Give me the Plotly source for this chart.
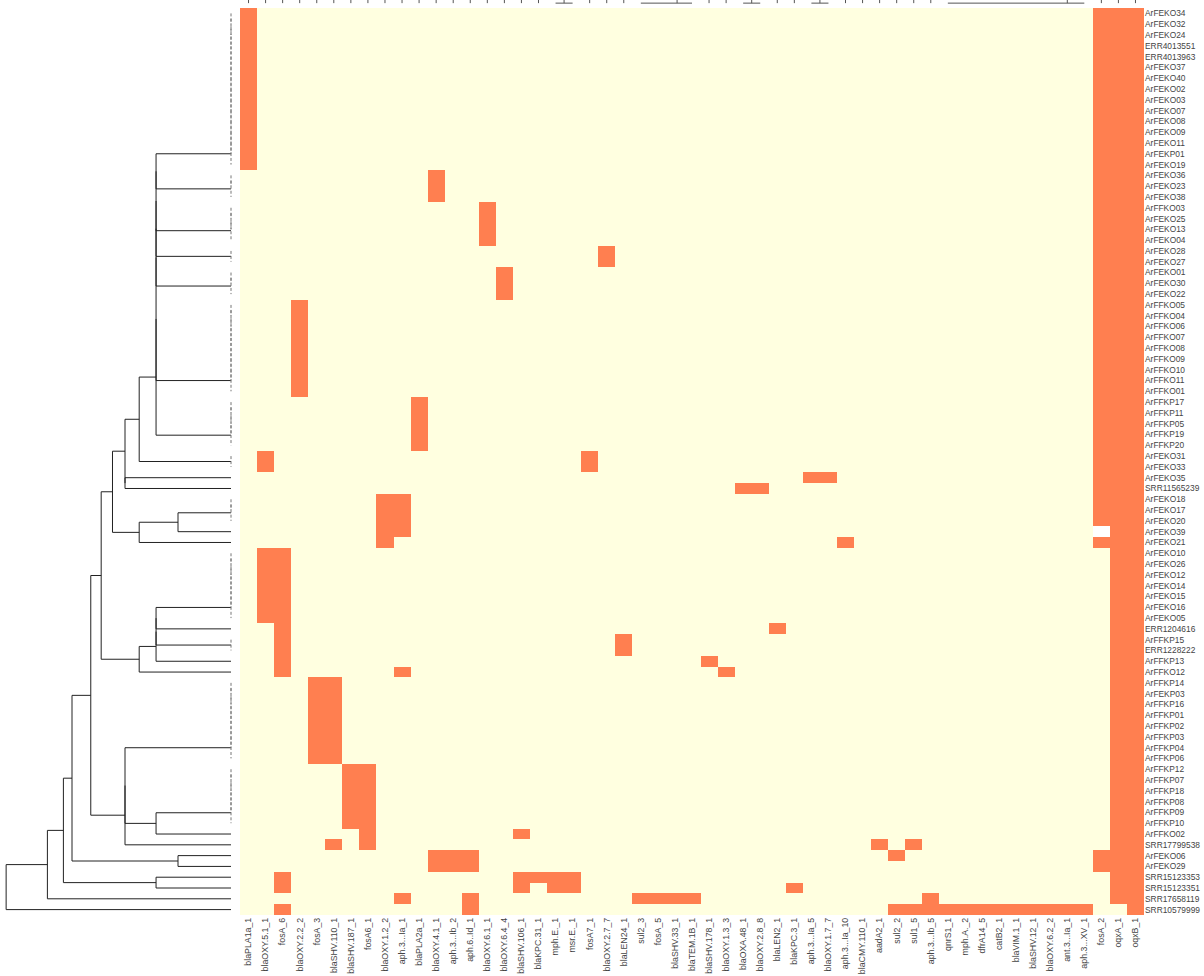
import numpy as np
import plotly.graph_objects as go

genes = ["blaPLA1a_1", "blaOXY.5.1_1", "fosA_6", "blaOXY.2.2_2", "fosA_3", "blaSHV.110_1",
         "blaSHV.187_1", "fosA6_1", "blaOXY.1.2_2", "aph.3...Ia_1", "blaPLA2a_1", "blaOXY.4.1_1",
         "aph.3...Ib_2", "aph.6..Id_1", "blaOXY.6.1_1", "blaOXY.6.4_4", "blaSHV.106_1", "blaKPC.31_1",
         "mph.E._1", "msr.E._1", "fosA7_1", "blaOXY.2.7_7", "blaLEN24_1", "sul2_3", "fosA_5",
         "blaSHV.33_1", "blaTEM.1B_1", "blaSHV.178_1", "blaOXY.1.3_3", "blaOXA.48_1", "blaOXY.2.8_8",
         "blaLEN2_1", "blaKPC.3_1", "aph.3...Ia_5", "blaOXY.1.7_7", "aph.3...Ia_10", "blaCMY.110_1",
         "aadA2_1", "sul2_2", "sul1_5", "aph.3...Ib_5", "qnrS1_1", "mph.A._2", "dfrA14_5", "catB2_1",
         "blaVIM.1_1", "blaSHV.12_1", "blaOXY.6.2_2", "ant.3...Ia_1", "aph.3...XV_1", "fosA_2",
         "oqxA_1", "oqxB_1"]

samples = ["ArFEKO34", "ArFEKO32", "ArFEKO24", "ERR4013551", "ERR4013963", "ArFEKO37", "ArFEKO40",
           "ArFEKO02", "ArFEKO03", "ArFEKO07", "ArFEKO08", "ArFEKO09", "ArFEKO11", "ArFEKP01",
           "ArFEKO19", "ArFEKO36", "ArFEKO23", "ArFEKO38", "ArFFKO03", "ArFEKO25", "ArFEKO13",
           "ArFEKO04", "ArFEKO28", "ArFEKO27", "ArFEKO01", "ArFEKO30", "ArFEKO22", "ArFFKO05",
           "ArFFKO04", "ArFFKO06", "ArFFKO07", "ArFFKO08", "ArFFKO09", "ArFFKO10", "ArFFKO11",
           "ArFFKO01", "ArFFKP17", "ArFFKP11", "ArFFKP05", "ArFFKP19", "ArFFKP20", "ArFEKO31",
           "ArFEKO33", "ArFEKO35", "SRR11565239", "ArFEKO18", "ArFEKO17", "ArFEKO20", "ArFEKO39",
           "ArFEKO21", "ArFEKO10", "ArFEKO26", "ArFEKO12", "ArFEKO14", "ArFEKO15", "ArFEKO16",
           "ArFEKO05", "ERR1204616", "ArFFKP15", "ERR1228222", "ArFFKP13", "ArFFKO12", "ArFFKP14",
           "ArFEKP03", "ArFFKP16", "ArFFKP01", "ArFFKP02", "ArFFKP03", "ArFFKP04", "ArFFKP06",
           "ArFFKP12", "ArFFKP07", "ArFFKP18", "ArFFKP08", "ArFFKP09", "ArFFKP10", "ArFFKO02",
           "SRR17799538", "ArFEKO06", "ArFEKO29", "SRR15123353", "SRR15123351", "SRR17658119",
           "SRR10579999"]

# genes present in each sample (1-based column numbers, same order as `samples`)
present_cols = [
    [1, 51, 52, 53], [1, 51, 52, 53], [1, 51, 52, 53], [1, 51, 52, 53], [1, 51, 52, 53],
    [1, 51, 52, 53], [1, 51, 52, 53], [1, 51, 52, 53], [1, 51, 52, 53], [1, 51, 52, 53],
    [1, 51, 52, 53], [1, 51, 52, 53], [1, 51, 52, 53], [1, 51, 52, 53], [1, 51, 52, 53],
    [12, 51, 52, 53], [12, 51, 52, 53], [12, 51, 52, 53],
    [15, 51, 52, 53], [15, 51, 52, 53], [15, 51, 52, 53], [15, 51, 52, 53],
    [22, 51, 52, 53], [22, 51, 52, 53],
    [16, 51, 52, 53], [16, 51, 52, 53], [16, 51, 52, 53],
    [4, 51, 52, 53], [4, 51, 52, 53], [4, 51, 52, 53], [4, 51, 52, 53], [4, 51, 52, 53],
    [4, 51, 52, 53], [4, 51, 52, 53], [4, 51, 52, 53], [4, 51, 52, 53],
    [11, 51, 52, 53], [11, 51, 52, 53], [11, 51, 52, 53], [11, 51, 52, 53], [11, 51, 52, 53],
    [2, 21, 51, 52, 53], [2, 21, 51, 52, 53],
    [34, 35, 51, 52, 53],
    [30, 31, 51, 52, 53],
    [9, 10, 51, 52, 53], [9, 10, 51, 52, 53], [9, 10, 51, 52, 53],
    [9, 10, 52, 53],
    [9, 36, 51, 52, 53],
    [2, 3, 52, 53], [2, 3, 52, 53], [2, 3, 52, 53], [2, 3, 52, 53], [2, 3, 52, 53],
    [2, 3, 52, 53], [2, 3, 52, 53],
    [3, 32, 52, 53],
    [3, 23, 52, 53], [3, 23, 52, 53],
    [3, 28, 52, 53],
    [3, 10, 29, 52, 53],
    [5, 6, 52, 53], [5, 6, 52, 53], [5, 6, 52, 53], [5, 6, 52, 53], [5, 6, 52, 53],
    [5, 6, 52, 53], [5, 6, 52, 53], [5, 6, 52, 53],
    [7, 8, 52, 53], [7, 8, 52, 53], [7, 8, 52, 53], [7, 8, 52, 53], [7, 8, 52, 53],
    [7, 8, 52, 53],
    [8, 17, 52, 53],
    [6, 8, 38, 40, 52, 53],
    [12, 13, 14, 39, 51, 52, 53],
    [12, 13, 14, 51, 52, 53],
    [3, 17, 18, 19, 20, 52, 53],
    [3, 17, 19, 20, 33, 52, 53],
    [10, 14, 24, 25, 26, 27, 41, 52, 53],
    [3, 14, 39, 40, 41, 42, 43, 44, 45, 46, 47, 48, 49, 50, 53],
]

# cells without a value (drawn blank)
missing_cells = [("ArFEKO39", "fosA_2")]

# row dendrogram topology (1-based row numbers); a list with >2 items merges left to right
row_tree = [
    [
        [
            [
                [
                    [
                        [
                            [
                                [
                                    [1, 2, 3, 4, 5, 6, 7, 8, 9, 10, 11, 12, 13, 14, 15],
                                    [16, 17, 18], [19, 20, 21, 22], [23, 24], [25, 26, 27],
                                    [28, 29, 30, 31, 32, 33, 34, 35, 36],
                                    [37, 38, 39, 40, 41],
                                ],
                                [42, 43],
                            ],
                            [44, 45],
                        ],
                        [[[46, 47, 48], 49], 50],
                    ],
                    [[[51, 52, 53, 54, 55, 56, 57], 58, [59, 60], 61], 62],
                ],
                [[[63, 64, 65, 66, 67, 68, 69, 70], [[71, 72, 73, 74, 75, 76], 77]], 78],
            ],
            [79, 80],
        ],
        [81, 82],
    ],
    83,
]
row_tree = [row_tree, 84]

# ---------------------------------------------------------------- matrix
nr, nc = len(samples), len(genes)
z = np.zeros((nr, nc))
for r, cols in enumerate(present_cols):
    for c in cols:
        z[r, c - 1] = 1.0
zd = z.copy()
for s, g in missing_cells:
    z[samples.index(s), genes.index(g)] = np.nan

# euclidean distances between rows (blank cells counted as absent)
diff = zd[:, None, :] - zd[None, :, :]
dist = np.sqrt((diff ** 2).sum(axis=2))

seg_x, seg_y = [], []      # dendrogram branches
zero_x, zero_y = [], []    # joins of identical leaves (height 0)


def add_seg(x0, y0, x1, y1):
    if x0 == 0 and x1 == 0:
        if y0 != y1:
            zero_x.extend([x0, x1, None])
            zero_y.extend([y0, y1, None])
        return
    seg_x.extend([x0, x1, None])
    seg_y.extend([y0, y1, None])


def build(node):
    if isinstance(node, int):
        return [node - 1], float(node - 1), 0.0
    parts = [build(ch) for ch in node]
    mem, pos, h = parts[0]
    for mem2, pos2, h2 in parts[1:]:
        hn = max(dist[i, j] for i in mem for j in mem2)
        add_seg(hn, pos, hn, pos2)
        add_seg(h, pos, hn, pos)
        add_seg(h2, pos2, hn, pos2)
        mem = mem + mem2
        pos = (pos + pos2) / 2.0
        h = hn
    return mem, pos, h


build(row_tree)

# column dendrogram: only its leaf ends are visible above the heatmap.
# runs of identical neighbouring columns join at height 0.
col_x, col_y = [], []
c = 0
while c < nc:
    e = c
    while e + 1 < nc and np.array_equal(zd[:, e + 1], zd[:, c]):
        e += 1
    if e > c:
        col_x.extend([c, e, None])
        col_y.extend([0, 0, None])
        p = float(c)
        for k in range(c + 1, e + 1):
            p = (p + k) / 2.0
    else:
        p = float(c)
    col_x.extend([p, p, None])
    col_y.extend([0, 1, None])
    c = e + 1

# ---------------------------------------------------------------- figure
W, H = 1204, 976
hm_x0, hm_x1 = 240, 1144
hm_y0, hm_y1 = 8, 915
dend_px = 53.0  # pixels per distance unit
leaf_px = 231

font_fam = "Liberation Sans, Arial, sans-serif"
lab_col = "#444444"

fig = go.Figure()
fig.add_trace(go.Heatmap(
    z=z, x=list(range(nc)), y=list(range(nr)),
    colorscale=[[0, "#FFFFE0"], [0.5, "#FFFFE0"], [0.5, "#FF7F50"], [1, "#FF7F50"]],
    zmin=0, zmax=1, showscale=False, xaxis="x", yaxis="y",
    hovertemplate="%{y}<br>%{x}: %{z}<extra></extra>",
))
fig.add_trace(go.Scatter(
    x=seg_x, y=seg_y, mode="lines", line=dict(color="#222222", width=1),
    xaxis="x2", yaxis="y2", hoverinfo="skip", showlegend=False,
))
fig.add_trace(go.Scatter(
    x=zero_x, y=zero_y, mode="lines", line=dict(color="#777777", width=1, dash="3px,2px"),
    xaxis="x2", yaxis="y2", hoverinfo="skip", showlegend=False,
))
fig.add_trace(go.Scatter(
    x=col_x, y=col_y, mode="lines", line=dict(color="#555555", width=1),
    xaxis="x", yaxis="y3", hoverinfo="skip", showlegend=False,
))

ydom = [1 - hm_y1 / H, 1 - hm_y0 / H]
fig.update_layout(
    width=W, height=H,
    margin=dict(l=0, r=0, t=0, b=0),
    paper_bgcolor="white", plot_bgcolor="white",
    showlegend=False,
    font=dict(family=font_fam, color=lab_col),
    xaxis=dict(domain=[hm_x0 / W, hm_x1 / W], range=[-0.5, nc - 0.5], anchor="y",
               tickmode="array", tickvals=list(range(nc)), ticktext=genes,
               tickangle=-90, tickfont=dict(size=8.8, color=lab_col, family=font_fam),
               ticks="", showgrid=False, zeroline=False, showline=False, automargin=False),
    yaxis=dict(domain=ydom, range=[nr - 0.5, -0.5], anchor="x", side="right",
               tickmode="array", tickvals=list(range(nr)), ticktext=samples,
               tickfont=dict(size=8.4, color=lab_col, family=font_fam),
               ticks="", showgrid=False, zeroline=False, showline=False, automargin=False),
    xaxis2=dict(domain=[0, (leaf_px + 3) / W], range=[leaf_px / dend_px, -3 / dend_px],
                anchor="y2", visible=False),
    yaxis2=dict(domain=ydom, range=[nr - 0.5, -0.5], anchor="x2", visible=False),
    yaxis3=dict(domain=[1 - 5 / H, 1], range=[-0.6, 1], anchor="x", visible=False),
)

fig.write_html("out.html", config={"displayModeBar": False},
               post_script="document.body.style.margin='0px';")
